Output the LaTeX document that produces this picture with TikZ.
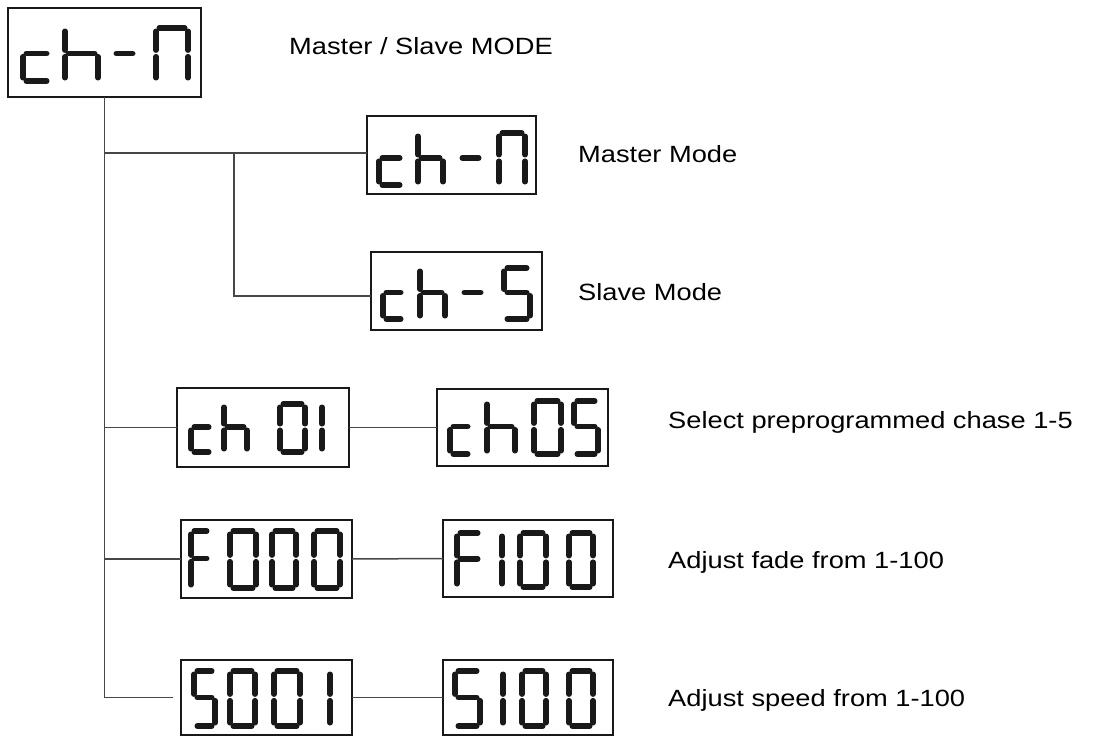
\documentclass[tikz,border=0pt]{standalone}
\usepackage{fontspec}
\setmainfont{Liberation Sans}[FakeStretch=1.16]
\tikzset{
  disp/.style={draw=black!90, line width=2.2pt, rectangle, inner sep=0pt, outer sep=0pt, anchor=north west},
  conn/.style={draw=black!72, line width=1.5pt},
  segline/.style={draw=black!90, line width=5.6pt, line cap=round, shorten <=3.3pt, shorten >=3.3pt},
  lbl/.style={anchor=base west, inner sep=0pt, font=\fontsize{23.5}{28}\selectfont}
}
\newcommand\sevsega{\draw[segline] (0,0)--(1,0);}
\newcommand\sevsegb{\draw[segline] (1,0)--(1,.48);}
\newcommand\sevsegc{\draw[segline] (1,.48)--(1,1);}
\newcommand\sevsegd{\draw[segline] (0,1)--(1,1);}
\newcommand\sevsege{\draw[segline] (0,.48)--(0,1);}
\newcommand\sevsegf{\draw[segline] (0,0)--(0,.48);}
\newcommand\sevsegg{\draw[segline] (0,.48)--(1,.48);}
% glyph: x1 x2 top bottom segments (relative to current box origin)
\newcommand\glyph[5]{\begin{scope}[shift={(#1,#3)},xscale=#2-#1,yscale=#4-#3]
  \foreach \s in {#5}{\csname sevseg\s\endcsname}\end{scope}}
\begin{document}
\begin{tikzpicture}[x=1pt,y=-1pt]
\useasboundingbox (0,0) rectangle (1104,736);
% display boxes
\node[disp, minimum width=193pt, minimum height=89pt] (main) at (8,8) {};
\node[disp, minimum width=169pt, minimum height=78pt] (master) at (367,116) {};
\node[disp, minimum width=171pt, minimum height=78pt] (slave) at (371,252) {};
\node[disp, minimum width=172pt, minimum height=79pt] (chA) at (177,388) {};
\node[disp, minimum width=171pt, minimum height=77pt] (chB) at (437,389) {};
\node[disp, minimum width=171pt, minimum height=78pt] (fA) at (181,520) {};
\node[disp, minimum width=170pt, minimum height=77pt] (fB) at (443,520) {};
\node[disp, minimum width=171pt, minimum height=75pt] (sA) at (181,660) {};
\node[disp, minimum width=170pt, minimum height=75pt] (sB) at (443,660) {};
% glyphs
\begin{scope}[shift={(main.north west)}]
  \glyph{15}{42}{20}{73}{d,e,g}
  \glyph{57}{90}{20}{73}{c,e,f,g}
  \glyph{105}{128}{20}{73}{g}
  \glyph{148}{180}{20}{73}{a,b,c,e,f}
\end{scope}
\begin{scope}[shift={(master.north west)}]
  \glyph{12}{36}{17}{69}{d,e,g}
  \glyph{51}{76}{17}{69}{c,e,f,g}
  \glyph{92}{115}{17}{69}{g}
  \glyph{132}{158}{17}{69}{a,b,c,e,f}
\end{scope}
\begin{scope}[shift={(slave.north west)}]
  \glyph{12}{33}{16}{67}{d,e,g}
  \glyph{49}{74}{16}{67}{c,e,f,g}
  \glyph{90}{113}{16}{67}{g}
  \glyph{133}{159}{16}{67}{a,c,d,f,g}
\end{scope}
\begin{scope}[shift={(chA.north west)}]
  \glyph{14}{35}{16}{64}{d,e,g}
  \glyph{47}{70}{16}{64}{c,e,f,g}
  \glyph{103}{128}{16}{64}{a,b,c,d,e,f}
  \glyph{144}{145}{16}{64}{b,c}
\end{scope}
\begin{scope}[shift={(chB.north west)}]
  \glyph{13}{34}{12}{65}{d,e,g}
  \glyph{50}{78}{12}{65}{c,e,f,g}
  \glyph{97}{124}{12}{65}{a,b,c,d,e,f}
  \glyph{137}{161}{12}{65}{a,c,d,f,g}
\end{scope}
\begin{scope}[shift={(fA.north west)}]
  \glyph{10}{29}{11}{68}{a,e,f,g}
  \glyph{49}{75}{11}{68}{a,b,c,d,e,f}
  \glyph{91}{115}{11}{68}{a,b,c,d,e,f}
  \glyph{133}{159}{11}{68}{a,b,c,d,e,f}
\end{scope}
\begin{scope}[shift={(fB.north west)}]
  \glyph{14}{38}{13}{67}{a,e,f,g}
  \glyph{58}{59}{13}{67}{b,c}
  \glyph{77}{103}{13}{67}{a,b,c,d,e,f}
  \glyph{126}{150}{13}{67}{a,b,c,d,e,f}
\end{scope}
\begin{scope}[shift={(sA.north west)}]
  \glyph{13}{34}{11}{66}{a,c,d,f,g}
  \glyph{49}{74}{11}{66}{a,b,c,d,e,f}
  \glyph{93}{119}{11}{66}{a,b,c,d,e,f}
  \glyph{148}{149}{11}{66}{b,c}
\end{scope}
\begin{scope}[shift={(sB.north west)}]
  \glyph{12}{37}{11}{66}{a,c,d,f,g}
  \glyph{59}{60}{11}{66}{b,c}
  \glyph{79}{103}{11}{66}{a,b,c,d,e,f}
  \glyph{126}{150}{11}{66}{a,b,c,d,e,f}
\end{scope}
% junctions
\coordinate (t1) at (104.5,153);
\coordinate (b1) at (234,153);
\coordinate (b2) at (234,296);
\coordinate (t2) at (104.5,427.5);
\coordinate (t3) at (104.5,559);
\coordinate (t4) at (104.5,697.5);
% connectors
\draw[conn, shorten >=8pt] (main.south) -- (t4) -- (sA.west);
\draw[conn] (t1) -- (t1 -| master.west);
\draw[conn] (b1) -- (b2) -- (b2 -| slave.west);
\draw[conn] (t2) -- (chA.west);
\draw[conn] (chA.east) -- (chB.west);
\draw[conn] (t3) -- (t3 -| fA.west);
\draw[conn] (fA.east) -- (fB.west);
\draw[conn] (sA.east) -- (sB.west);
% labels
\node[lbl] (l0) at (289,54) {Master / Slave MODE};
\node[lbl] (l1) at (578,162) {Master Mode};
\node[lbl] (l2) at (578,300) {Slave Mode};
\node[lbl] (l3) at (668,428) {Select preprogrammed chase 1-5};
\node[lbl] (l4) at (668,568) {Adjust fade from 1-100};
\node[lbl] (l5) at (668,706) {Adjust speed from 1-100};
\end{tikzpicture}
\end{document}
